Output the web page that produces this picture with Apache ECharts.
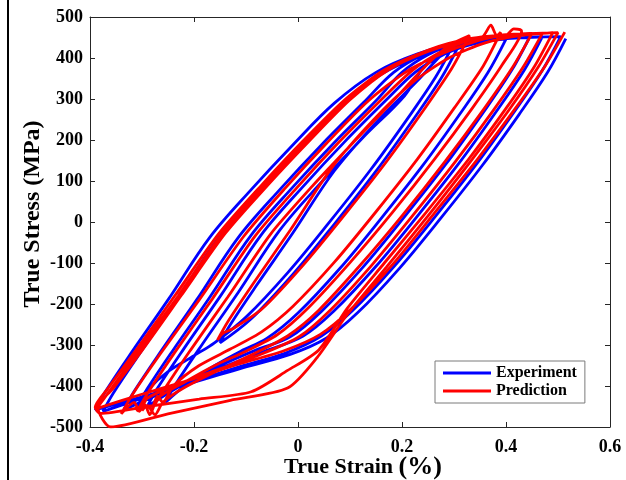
<!DOCTYPE html>
<html>
<head>
<meta charset="utf-8">
<script src="https://cdn.jsdelivr.net/npm/echarts@6/dist/echarts.min.js"></script>
<style>
html,body{margin:0;padding:0;background:#fff;}
#chart{width:626px;height:480px;}
</style>
</head>
<body>
<div id="chart"></div>
<script>
// Axis ticks
const xTicks = [-0.4, -0.2, 0, 0.2, 0.4, 0.6];
const yTicks = [-500, -400, -300, -200, -100, 0, 100, 200, 300, 400, 500];
const seriesNames = ['Experiment', 'Prediction'];

// Experiment (blue) path: true strain (%) / true stress (MPa)
const experimentStrain = [
  0.515,0.48,0.425,0.355,0.275,0.195,0.115,0.055,-0.015,-0.105,-0.205,-0.305,-0.39,
  -0.37,-0.32,-0.25,-0.17,-0.09,-0.01,0.07,0.15,0.23,0.31,0.41,0.505,
  0.47,0.415,0.345,0.265,0.185,0.105,0.045,-0.025,-0.11,-0.205,-0.295,-0.375,
  -0.355,-0.305,-0.235,-0.155,-0.075,0.005,0.085,0.16,0.235,0.31,0.39,0.47,
  0.435,0.38,0.31,0.23,0.15,0.07,0.01,-0.07,-0.16,-0.25,-0.335,
  -0.315,-0.265,-0.195,-0.115,-0.035,0.045,0.125,0.184,0.243,0.302,0.375,0.445,
  0.41,0.355,0.285,0.205,0.125,0.045,-0.015,-0.08,-0.15,-0.22,-0.29,
  -0.27,-0.22,-0.15,-0.07,0.01,0.09,0.17,0.225,0.275,0.32,0.36,0.40,
  0.365,0.31,0.24,0.16,0.08,0,-0.06,-0.11,-0.16,-0.21,-0.255,
  -0.235,-0.185,-0.115,-0.035,0.045,0.125,0.205,0.24,0.275,0.31,
  0.275,0.22,0.15,0.07,-0.01,-0.09,-0.15,
  -0.13,-0.08,-0.01,0.07,0.15,0.23,0.27,0.30,
  0.265,0.21,0.14,0.06,-0.02,-0.10,-0.16,-0.20,-0.25,-0.285,-0.31,
  -0.29,-0.24,-0.17,-0.09,-0.01,0.07,0.15,0.20,0.25,0.30,0.36
];
const experimentStress = [
  447,365,262,139,10,-113,-221,-283,-323,-355,-393,-428,-458,
  -413,-318,-190,-38,79,188,290,365,410,437,448,452,
  370,267,144,15,-108,-216,-278,-320,-352,-390,-428,-462,
  -417,-322,-194,-42,75,184,286,360,405,432,446,452,
  370,267,144,15,-108,-216,-278,-318,-362,-410,-458,
  -413,-318,-190,-38,79,188,290,365,410,437,448,450,
  368,265,142,13,-110,-218,-280,-312,-350,-395,-450,
  -405,-310,-182,-30,87,196,298,365,405,428,440,446,
  364,261,138,9,-114,-222,-284,-315,-350,-392,-440,
  -395,-300,-172,-20,97,206,308,375,415,432,
  350,247,124,-5,-128,-236,-295,
  -250,-155,-27,125,242,345,400,436,
  354,251,128,-1,-124,-232,-294,-326,-365,-405,-452,
  -407,-312,-184,-32,85,194,296,365,408,432,442
];

// Prediction (red) path
const predictionStrain = [
  0.513,0.475,0.418,0.345,0.263,0.183,0.103,0.043,-0.027,-0.115,-0.21,-0.305,-0.387,
  -0.36,-0.305,-0.23,-0.145,-0.062,0.018,0.098,0.175,0.252,0.33,0.415,0.50,
  0.462,0.405,0.332,0.25,0.17,0.095,0.037,-0.02,-0.13,-0.25,-0.36,-0.385,
  -0.355,-0.298,-0.225,-0.14,-0.058,0.022,0.10,0.175,0.25,0.322,0.398,0.47,
  0.433,0.376,0.303,0.222,0.142,0.062,0.002,-0.07,-0.15,-0.23,-0.29,-0.305,-0.315,-0.34,
  -0.318,-0.265,-0.19,-0.105,-0.025,0.055,0.135,0.21,0.28,0.34,0.38,0.40,0.415,0.43,
  0.393,0.336,0.263,0.182,0.10,0.02,-0.04,-0.10,-0.16,-0.22,-0.27,-0.285,-0.295,-0.31,
  -0.288,-0.237,-0.165,-0.083,-0.002,0.078,0.158,0.22,0.275,0.32,0.355,0.371,0.382,0.39,
  0.356,0.30,0.23,0.15,0.07,-0.01,-0.07,-0.13,-0.19,-0.24,-0.26,-0.27,-0.28,
  -0.258,-0.207,-0.135,-0.053,0.028,0.108,0.185,0.245,0.29,0.33,
  0.295,0.24,0.17,0.09,0.01,-0.07,-0.125,-0.145,-0.155,
  -0.135,-0.085,-0.015,0.065,0.145,0.22,0.29,0.36,0.43,0.49,
  0.455,0.40,0.328,0.246,0.166,0.095,0.04,-0.02,-0.09,-0.19,-0.29,-0.38,-0.39,
  -0.365,-0.31,-0.237,-0.152,-0.07,0.01,0.09,0.165,0.24,0.31,0.38,0.45,
  0.413,0.356,0.283,0.202,0.12,0.04,-0.02,-0.08,-0.15,-0.22,-0.26,-0.275,-0.29,-0.30
];
const predictionStress = [
  463,380,277,153,23,-102,-211,-274,-314,-347,-386,-422,-455,
  -408,-312,-180,-28,92,200,300,375,420,447,458,462,
  378,272,148,15,-110,-225,-330,-405,-435,-468,-500,-452,
  -405,-310,-180,-28,90,198,298,372,416,442,455,460,
  378,273,148,18,-105,-215,-280,-322,-358,-395,-430,-462,-440,-468,
  -420,-322,-190,-36,82,192,295,368,412,440,452,455,471,466,
  384,279,154,24,-99,-209,-275,-315,-350,-392,-430,-470,-445,-462,
  -415,-318,-188,-35,84,194,296,370,415,440,452,480,455,463,
  380,277,154,25,-98,-206,-268,-310,-350,-400,-440,-425,-455,
  -410,-313,-183,-30,88,196,298,380,430,455,
  373,270,147,18,-105,-213,-260,-272,-288,
  -243,-148,-20,132,249,340,400,437,455,462,
  380,277,153,23,-100,-210,-312,-362,-414,-432,-450,-467,-452,
  -405,-310,-180,-28,90,198,298,370,414,440,454,460,
  378,273,148,18,-105,-215,-278,-318,-360,-405,-440,-470,-448,-460
];

const pairs = (xs, ys) => xs.map((x, i) => [x, ys[i]]);
const FONT = '"Liberation Serif", "Times New Roman", serif';
const axisCol = '#262626';

const chart = echarts.init(document.getElementById('chart'), null, {renderer: 'canvas'});
const baseX = {
  type: 'value', min: xTicks[0], max: xTicks[xTicks.length - 1],
  interval: xTicks[1] - xTicks[0],
  axisLine: {show: true, onZero: false, lineStyle: {color: axisCol, width: 1}},
  axisTick: {show: true, inside: true, length: 5, lineStyle: {color: axisCol}},
  splitLine: {show: false}
};
const baseY = {
  type: 'value', min: yTicks[0], max: yTicks[yTicks.length - 1],
  interval: yTicks[1] - yTicks[0],
  axisLine: {show: true, onZero: false, lineStyle: {color: axisCol, width: 1}},
  axisTick: {show: true, inside: true, length: 5, lineStyle: {color: axisCol}},
  splitLine: {show: false}
};

chart.setOption({
  animation: false,
  backgroundColor: '#fff',
  grid: {left: 90, right: 16, top: 17, bottom: 53, containLabel: false, outerBoundsMode: 'none'},
  xAxis: [
    Object.assign({}, baseX, {
      position: 'bottom',
      axisLabel: {color: '#000', fontFamily: FONT, fontWeight: 'bold', fontSize: 18, margin: 11,
        formatter: v => String(v)},
      name: '{a|True Strain }{b|(%)}',
      nameLocation: 'middle', nameGap: 27, nameMoveOverlap: false,
      nameTextStyle: {
        padding: [0, 0, 0, 26],
        rich: {
          a: {fontFamily: FONT, fontWeight: 'bold', fontSize: 22, color: '#000'},
          b: {fontFamily: FONT, fontWeight: 'bold', fontSize: 26, color: '#000'}
        }
      }
    }),
    Object.assign({}, baseX, {position: 'top', axisLabel: {show: false}})
  ],
  yAxis: [
    Object.assign({}, baseY, {
      position: 'left',
      axisLabel: {color: '#000', fontFamily: FONT, fontWeight: 'bold', fontSize: 18, margin: 7},
      name: 'True Stress (MPa)',
      nameLocation: 'middle', nameGap: 45, nameRotate: 90, nameMoveOverlap: false,
      nameTextStyle: {fontFamily: FONT, fontWeight: 'bold', fontSize: 24, color: '#000',
        padding: [0, 0, 0, 16]}
    }),
    Object.assign({}, baseY, {position: 'right', axisLabel: {show: false}})
  ],
  legend: {
    data: seriesNames,
    orient: 'vertical', left: 435, top: 361,
    icon: 'rect', itemWidth: 48, itemHeight: 3, itemGap: 2,
    padding: [4, 8, 4, 8],
    borderColor: '#7a7a7a', borderWidth: 1, backgroundColor: '#fff',
    textStyle: {fontFamily: FONT, fontWeight: 'bold', fontSize: 16, lineHeight: 16, color: '#000'}
  },
  series: [
    {name: seriesNames[0], type: 'line', data: pairs(experimentStrain, experimentStress),
     showSymbol: false, symbol: 'none', smooth: 0.35,
     lineStyle: {color: '#0000ff', width: 2.8}, itemStyle: {color: '#0000ff'}, z: 2},
    {name: seriesNames[1], type: 'line', data: pairs(predictionStrain, predictionStress),
     showSymbol: false, symbol: 'none', smooth: 0.25,
     lineStyle: {color: '#ff0000', width: 2.8}, itemStyle: {color: '#ff0000'}, z: 3}
  ],
  graphic: [
    {type: 'line', shape: {x1: 8, y1: 0, x2: 8, y2: 480}, style: {stroke: '#000', lineWidth: 2}}
  ]
});
</script>
</body>
</html>
